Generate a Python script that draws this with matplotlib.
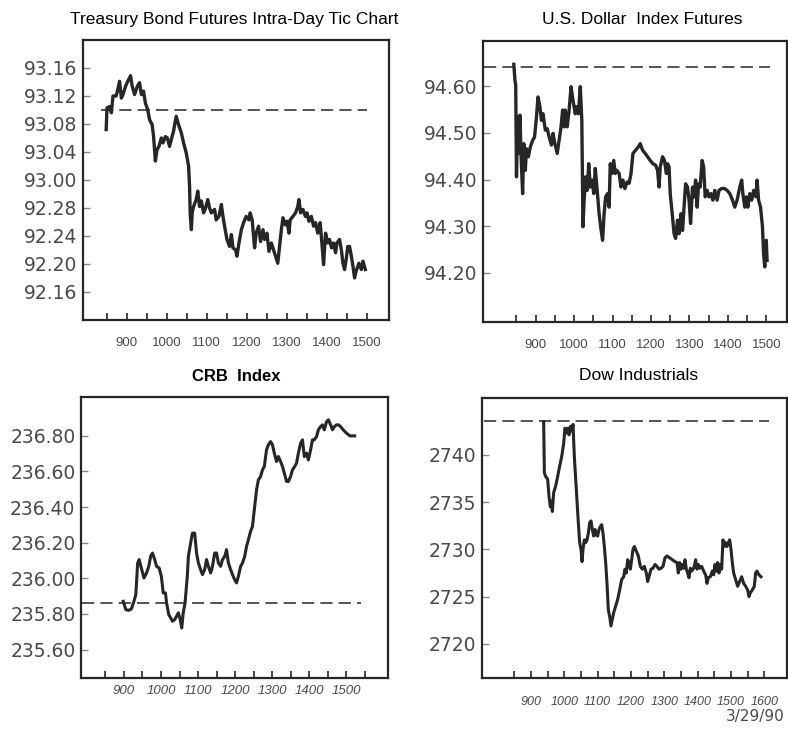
import matplotlib
matplotlib.use("Agg")
import matplotlib.pyplot as plt
from matplotlib.ticker import FixedLocator

# time axis in decimal hours (9.5 = 9:30)
bond_t = [8.49, 8.51, 8.575, 8.62, 8.66, 8.74, 8.78, 8.825, 8.87, 8.91, 8.975, 9.03, 9.10, 9.14, 9.20,
          9.27, 9.325, 9.37, 9.425, 9.47, 9.53, 9.575, 9.64, 9.675, 9.72, 9.76, 9.81, 9.87, 9.91, 9.97,
          10.02, 10.075, 10.12, 10.175, 10.24, 10.30, 10.37, 10.425, 10.49, 10.55, 10.575, 10.59, 10.62,
          10.64, 10.675, 10.74, 10.78, 10.825, 10.87, 10.925, 10.975, 11.03, 11.075, 11.12, 11.2, 11.24,
          11.31, 11.37, 11.41, 11.45, 11.51, 11.575, 11.62, 11.66, 11.725, 11.76, 11.81, 11.87, 11.925,
          11.99, 12.06, 12.09, 12.14, 12.2, 12.24, 12.3, 12.35, 12.41, 12.45, 12.51, 12.56, 12.62, 12.675,
          12.725, 12.78, 12.825, 12.87, 12.91, 12.97, 13.01, 13.06, 13.09, 13.16, 13.225, 13.28, 13.31,
          13.35, 13.41, 13.47, 13.51, 13.56, 13.62, 13.675, 13.725, 13.78, 13.84, 13.89, 13.925, 13.975,
          14.03, 14.075, 14.125, 14.175, 14.225, 14.26, 14.325, 14.37, 14.41, 14.45, 14.49, 14.53, 14.575,
          14.62, 14.66, 14.70, 14.74, 14.81, 14.87, 14.91, 14.97]
# bond price in 32nds above 92 (93.04 -> 36)
bond_32nds = [39.2, 42.3, 42.5, 41.6, 44.0, 44.0, 44.9, 46.1, 43.7, 44.2, 45.4, 46.1, 46.9, 45.4, 44.2,
              45.4, 45.9, 44.2, 44.7, 43.0, 42.0, 40.6, 39.9, 38.2, 34.7, 36.3, 36.8, 38.0, 37.3, 38.2,
              38.0, 36.8, 37.8, 39.0, 41.1, 39.9, 38.7, 37.3, 35.9, 34.0, 31.1, 27.3, 24.9,
              27.3, 28.2, 29.2, 30.4, 28.2, 29.0, 27.3, 28.0, 29.2, 28.0, 27.3, 27.8, 26.3,
              26.8, 28.5, 26.8, 25.4, 23.5, 22.5, 24.2, 22.3, 22.0, 21.1, 23.0, 24.9, 25.9,
              26.8, 26.3, 27.3, 26.3, 22.3, 24.4, 25.4, 23.2, 24.9, 23.5, 24.4, 21.8, 23.0, 22.0,
              21.1, 20.1, 22.5, 24.9, 26.6, 25.6, 26.1, 24.4, 26.3, 26.8, 27.3, 28.2, 29.2,
              27.3, 27.8, 26.8, 27.3, 26.1, 26.8, 25.4, 25.9, 24.4, 25.9, 22.5, 19.9, 24.4,
              23.0, 23.5, 22.3, 23.0, 21.6, 23.0, 23.5, 22.0, 20.1, 19.2, 20.6, 22.5, 22.5,
              21.1, 19.7, 18.0, 19.0, 20.1, 19.2, 20.4, 19.2]
bond_ticks = [16, 20, 24, 28, 32, 36, 40, 44, 48]
bond_labels = ["92.16", "92.20", "92.24", "92.28", "93.00", "93.04", "93.08", "93.12", "93.16"]
bond_ref = 42  # 93.10

usd_t = [8.43, 8.46, 8.48, 8.50, 8.53, 8.56, 8.59, 8.62, 8.66, 8.69, 8.73, 8.76, 8.81, 8.86, 8.92,
         8.97, 9.02, 9.06, 9.11, 9.15, 9.19, 9.25, 9.30, 9.35, 9.41, 9.45, 9.50, 9.56, 9.61, 9.66,
         9.70, 9.74, 9.77, 9.82, 9.87, 9.92, 9.97, 10.03, 10.06, 10.11, 10.16, 10.20, 10.23, 10.26,
         10.30, 10.34, 10.38, 10.42, 10.47, 10.51, 10.55, 10.60, 10.65, 10.69, 10.74, 10.78, 10.82,
         10.87, 10.91, 10.94, 10.98, 11.03, 11.07, 11.11, 11.17, 11.22, 11.27, 11.32, 11.38, 11.43,
         11.48, 11.53, 11.60, 11.67, 11.72, 11.78, 11.85, 11.91, 11.98, 12.05, 12.12, 12.17, 12.21,
         12.24, 12.30, 12.35, 12.40, 12.43, 12.47, 12.50, 12.56, 12.60, 12.64, 12.69, 12.73, 12.78,
         12.82, 12.86, 12.90, 12.95, 12.99, 13.03, 13.08, 13.12, 13.16, 13.20, 13.24, 13.28, 13.33,
         13.37, 13.41, 13.46, 13.51, 13.56, 13.61, 13.66, 13.72, 13.77, 13.84, 13.91, 13.98, 14.05,
         14.12, 14.18, 14.24, 14.31, 14.36, 14.39, 14.44, 14.48, 14.52, 14.57, 14.62, 14.67, 14.73,
         14.76, 14.80, 14.85, 14.90, 14.93, 14.96, 15.00, 15.02]
usd_val = [94.647, 94.613, 94.602, 94.406, 94.534, 94.456, 94.538, 94.449, 94.370, 94.477, 94.42,
           94.466, 94.449, 94.47, 94.484, 94.491, 94.534, 94.577, 94.556, 94.527, 94.541, 94.506,
           94.509, 94.491, 94.474, 94.499, 94.477, 94.456, 94.484, 94.513, 94.549, 94.513, 94.549,
           94.513, 94.549, 94.599, 94.57, 94.541, 94.556, 94.541, 94.599, 94.527, 94.299, 94.356,
           94.406, 94.377, 94.434, 94.384, 94.399, 94.37, 94.424, 94.377, 94.327, 94.299, 94.27,
           94.327, 94.363, 94.37, 94.341, 94.434, 94.413, 94.441, 94.413, 94.42, 94.413, 94.384,
           94.399, 94.381, 94.395, 94.392, 94.413, 94.456, 94.463, 94.47, 94.477, 94.463, 94.456,
           94.449, 94.441, 94.434, 94.431, 94.42, 94.384, 94.427, 94.449, 94.441, 94.413, 94.434,
           94.427, 94.37, 94.32, 94.284, 94.274, 94.313, 94.284, 94.327, 94.291, 94.341, 94.391,
           94.384, 94.356, 94.306, 94.384, 94.363, 94.399, 94.341, 94.391, 94.384, 94.441, 94.427,
           94.363, 94.377, 94.363, 94.37, 94.356, 94.377, 94.356, 94.377, 94.381, 94.381, 94.377,
           94.37, 94.356, 94.341, 94.356, 94.384, 94.399, 94.37, 94.341, 94.363, 94.341, 94.37,
           94.356, 94.377, 94.363, 94.399, 94.356, 94.341, 94.299, 94.241, 94.213, 94.27, 94.227]
usd_ticks = [94.20, 94.30, 94.40, 94.50, 94.60]
usd_ref = 94.641

crb_t = [8.98, 9.05, 9.13, 9.20, 9.27, 9.32, 9.37, 9.41, 9.48, 9.54, 9.61, 9.67, 9.72, 9.77, 9.83,
         9.88, 9.95, 10.01, 10.06, 10.12, 10.15, 10.21, 10.26, 10.31, 10.37, 10.42, 10.47, 10.52,
         10.56, 10.60, 10.65, 10.71, 10.74, 10.80, 10.85, 10.91, 10.96, 11.01, 11.07, 11.12, 11.18,
         11.23, 11.28, 11.34, 11.39, 11.45, 11.50, 11.55, 11.61, 11.66, 11.72, 11.77, 11.82, 11.88,
         11.93, 11.99, 12.04, 12.09, 12.15, 12.20, 12.26, 12.31, 12.36, 12.42, 12.47, 12.53, 12.58,
         12.63, 12.69, 12.74, 12.79, 12.85, 12.90, 12.96, 13.01, 13.06, 13.12, 13.17, 13.23, 13.28,
         13.33, 13.39, 13.44, 13.50, 13.55, 13.61, 13.66, 13.71, 13.77, 13.82, 13.87, 13.93, 13.98,
         14.04, 14.09, 14.14, 14.20, 14.25, 14.31, 14.36, 14.41, 14.47, 14.52, 14.58, 14.63, 14.68,
         14.74, 14.79, 14.85, 14.92, 15.01, 15.10, 15.19, 15.23]
crb_val = [235.871, 235.824, 235.82, 235.828, 235.871, 235.908, 236.086, 236.105, 236.049, 236.002,
           236.03, 236.067, 236.123, 236.142, 236.105, 236.067, 236.058, 236.011, 235.918, 235.918,
           235.862, 235.796, 235.778, 235.759, 235.768, 235.787, 235.806, 235.768, 235.721, 235.806,
           235.862, 236.011, 236.123, 236.198, 236.254, 236.254, 236.142, 236.086, 236.049, 236.021,
           236.049, 236.105, 236.067, 236.03, 236.067, 236.142, 236.142, 236.086, 236.067, 236.105,
           236.123, 236.161, 236.086, 236.049, 236.021, 235.992, 235.974, 236.011, 236.067, 236.086,
           236.123, 236.179, 236.217, 236.264, 236.292, 236.404, 236.497, 236.553, 236.572, 236.609,
           236.628, 236.722, 236.75, 236.768, 236.75, 236.703, 236.656, 236.684, 236.656, 236.628,
           236.591, 236.544, 236.544, 236.572, 236.609, 236.628, 236.647, 236.703, 236.759, 236.778,
           236.684, 236.703, 236.665, 236.722, 236.778, 236.778, 236.796, 236.834, 236.852, 236.862,
           236.834, 236.88, 236.89, 236.862, 236.834, 236.852, 236.862, 236.862, 236.852, 236.834,
           236.815, 236.80, 236.80, 236.80]
crb_ticks = [235.60, 235.80, 236.00, 236.20, 236.40, 236.60, 236.80]
crb_ref = 235.862

dow_t = [9.38, 9.40, 9.44, 9.50, 9.54, 9.58, 9.61, 9.64, 9.68, 9.74, 9.80, 9.86, 9.92, 9.98, 10.02,
         10.06, 10.10, 10.14, 10.18, 10.22, 10.26, 10.30, 10.34, 10.38, 10.42, 10.46, 10.50, 10.53,
         10.56, 10.60, 10.64, 10.68, 10.72, 10.76, 10.80, 10.84, 10.88, 10.92, 10.96, 11.00, 11.04,
         11.08, 11.12, 11.16, 11.20, 11.24, 11.28, 11.32, 11.36, 11.40, 11.44, 11.48, 11.54, 11.60,
         11.66, 11.72, 11.78, 11.82, 11.86, 11.90, 11.94, 11.98, 12.02, 12.06, 12.10, 12.16, 12.22,
         12.28, 12.34, 12.40, 12.46, 12.50, 12.54, 12.60, 12.66, 12.72, 12.78, 12.84, 12.90, 12.96,
         13.02, 13.08, 13.16, 13.24, 13.32, 13.38, 13.42, 13.46, 13.50, 13.54, 13.58, 13.62, 13.66,
         13.70, 13.74, 13.78, 13.82, 13.86, 13.90, 13.94, 13.98, 14.02, 14.06, 14.12, 14.18, 14.24,
         14.28, 14.32, 14.38, 14.44, 14.48, 14.52, 14.56, 14.60, 14.64, 14.68, 14.72, 14.76, 14.80,
         14.84, 14.88, 14.92, 14.96, 15.00, 15.04, 15.08, 15.14, 15.20, 15.26, 15.32, 15.38, 15.44,
         15.50, 15.54, 15.58, 15.64, 15.70, 15.74, 15.78, 15.84, 15.90]
dow_val = [2743.5, 2738.1, 2737.7, 2737.4, 2735.6, 2734.5, 2735.1, 2734.0, 2736.0, 2736.7, 2737.7,
           2738.8, 2739.8, 2741.2, 2742.8, 2742.3, 2742.8, 2742.1, 2743.0, 2742.5, 2743.2, 2739.8,
           2737.4, 2734.9, 2732.8, 2730.7, 2730.0, 2728.7, 2730.0, 2731.0, 2730.7, 2731.0, 2731.7,
           2732.8, 2733.0, 2732.1, 2731.4, 2732.1, 2731.5, 2731.4, 2732.1, 2732.4, 2732.6, 2731.7,
           2730.3, 2728.6, 2726.4, 2723.6, 2722.9, 2721.9, 2722.6, 2723.3, 2724.0, 2724.7, 2725.7,
           2726.8, 2727.1, 2727.9, 2727.5, 2728.9, 2728.6, 2727.9, 2728.9, 2730.0, 2730.3, 2729.8,
           2729.3, 2728.2, 2727.9, 2728.2, 2727.5, 2726.6, 2727.1, 2727.9, 2728.0, 2728.4, 2728.2,
           2727.9, 2728.0, 2728.2, 2729.1, 2729.3, 2729.1, 2728.9, 2728.7, 2728.6, 2727.5, 2728.6,
           2727.9, 2728.4, 2728.0, 2728.9, 2727.9, 2727.5, 2727.0, 2728.0, 2727.7, 2727.9, 2728.2,
           2728.9, 2727.9, 2728.4, 2728.0, 2728.2, 2727.7, 2727.3, 2726.4, 2727.0, 2727.1, 2727.7,
           2727.3, 2728.4, 2727.7, 2728.6, 2727.5, 2728.4, 2727.9, 2731.0, 2730.3, 2730.7, 2730.3,
           2730.7, 2731.0, 2730.0, 2728.6, 2727.5, 2726.8, 2726.1, 2726.6, 2727.1, 2726.4, 2726.1,
           2725.7, 2725.0, 2725.4, 2725.7, 2726.1, 2727.5, 2727.7, 2727.3, 2727.1]
dow_ticks = [2720, 2725, 2730, 2735, 2740]
dow_ref = 2743.6

LINE = "#262626"
TXT = "#4a4a4a"


def style(ax, hours, last_half, label_pad, italic, xsize=9.5):
    half = [8.5 + 0.5 * i for i in range(int(round((last_half - 8.5) / 0.5)) + 1)]
    ax.xaxis.set_major_locator(FixedLocator(hours))
    ax.xaxis.set_minor_locator(FixedLocator([h for h in half if h not in hours]))
    ax.set_xticklabels([str(int(h * 100)) for h in hours], fontsize=xsize, color=TXT,
                       family="Liberation Sans", style="italic" if italic else "normal")
    ax.tick_params(axis="x", which="both", direction="in", length=5, width=1.2,
                   color=LINE, pad=label_pad)
    ax.tick_params(axis="y", direction="in", length=5, width=1.0, color="#888888",
                   labelsize=13.5, labelcolor=TXT, pad=4)
    for s in ax.spines.values():
        s.set_linewidth(1.6)
        s.set_color(LINE)


fig = plt.figure(figsize=(7.88, 7.31), dpi=100)

# Treasury bonds
ax1 = fig.add_axes([0.1053, 0.5623, 0.3883, 0.383])
ax1.plot(bond_t, bond_32nds, color=LINE, lw=2.4)
ax1.plot([8.35, 15.02], [bond_ref, bond_ref], color=LINE, lw=1.1, dashes=(8, 4))
ax1.set_xlim(7.91, 15.56)
ax1.set_ylim(12, 52)
ax1.set_yticks(bond_ticks)
ax1.set_yticklabels(bond_labels)
style(ax1, [9, 10, 11, 12, 13, 14, 15], 15.0, 12, False)
fig.text(0.297, 0.973, "Treasury Bond Futures Intra-Day Tic Chart", ha="center", va="center",
         fontsize=12.5, family="Liberation Sans")

# US dollar
ax2 = fig.add_axes([0.613, 0.5595, 0.3858, 0.3845])
ax2.plot(usd_t, usd_val, color=LINE, lw=2.4)
ax2.plot([7.65, 15.09], [usd_ref, usd_ref], color=LINE, lw=1.1, dashes=(8, 4))
ax2.set_xlim(7.63, 15.54)
ax2.set_ylim(94.095, 94.697)
ax2.set_yticks(usd_ticks)
ax2.set_yticklabels(["%.2f" % v for v in usd_ticks])
style(ax2, [9, 10, 11, 12, 13, 14, 15], 15.0, 12, False)
fig.text(0.815, 0.973, "U.S. Dollar  Index Futures", ha="center", va="center",
         fontsize=12.5, family="Liberation Sans")

# CRB
ax3 = fig.add_axes([0.1028, 0.0725, 0.3896, 0.3848])
ax3.plot(crb_t, crb_val, color=LINE, lw=2.2)
ax3.plot([7.86, 15.41], [crb_ref, crb_ref], color=LINE, lw=1.1, dashes=(8, 4))
ax3.set_xlim(7.84, 16.13)
ax3.set_ylim(235.44, 237.02)
ax3.set_yticks(crb_ticks)
ax3.set_yticklabels(["%.2f" % v for v in crb_ticks])
style(ax3, [9, 10, 11, 12, 13, 14, 15], 15.5, 5, True)
fig.text(0.30, 0.485, "CRB  Index", ha="center", va="center", fontsize=12,
         fontweight="bold", family="Liberation Sans")

# Dow
ax4 = fig.add_axes([0.6117, 0.0725, 0.387, 0.383])
ax4.plot(dow_t, dow_val, color=LINE, lw=2.2)
ax4.plot([7.58, 16.13], [dow_ref, dow_ref], color=LINE, lw=1.1, dashes=(8, 4))
ax4.set_xlim(7.53, 16.68)
ax4.set_ylim(2716.4, 2745.99)
ax4.set_yticks(dow_ticks)
ax4.set_yticklabels([str(v) for v in dow_ticks])
style(ax4, [9, 10, 11, 12, 13, 14, 15, 16], 16.0, 13, True, xsize=9)
fig.text(0.81, 0.486, "Dow Industrials", ha="center", va="center", fontsize=12.5,
         family="Liberation Sans")

fig.text(0.958, 0.0205, "3/29/90", ha="center", va="center", fontsize=11, color=TXT)

fig.savefig("out.png", dpi=100)
